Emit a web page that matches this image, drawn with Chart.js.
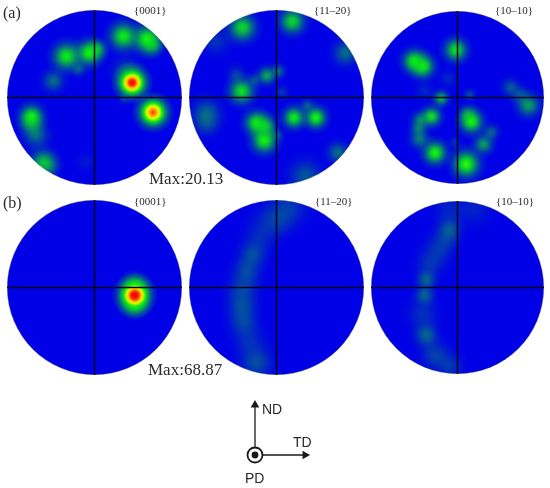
<!DOCTYPE html>
<html>
<head>
<meta charset="utf-8">
<script src="https://cdn.jsdelivr.net/npm/chart.js@4"></script>
<style>
html,body{margin:0;padding:0;background:#fff;width:550px;height:488px;overflow:hidden}
#stage{position:relative;width:550px;height:488px}
canvas{position:absolute}
.t{position:absolute;white-space:nowrap;color:#2a2a2a;line-height:1;transform:translateY(-50%)}
.serif{font-family:"Liberation Serif",serif}
.sans{font-family:"Liberation Sans",sans-serif;font-size:14px}
</style>
</head>
<body>
<div id="stage"></div>
<script>
// Each pole: [x, y, peak level, spread], x/y on the unit projection disc.
const polesA0001 = [
  [.43,.17,2.15,.14],[.36,.30,.3,.14],[.67,-.17,1.95,.14],[.33,.70,1.0,.14],[.60,.67,1.05,.14],[.66,.60,.7,.1],
  [-.32,.47,1.0,.14],[-.06,.51,1.05,.13],[.03,.55,.7,.09],[-.18,.32,.35,.07],[-.47,.19,.45,.11],
  [-.72,-.22,1.05,.12],[-.72,-.3,.5,.11],[-.67,-.43,.45,.13],[-.59,-.74,.75,.13],[-.53,-.78,.4,.11],[.33,-.02,.18,.05],[-.1,-.74,.1,.09]
];
const polesA1120 = [
  [-.39,.80,.9,.14],[-.69,.64,.2,.14],[.18,.87,.9,.13],[.79,.51,.45,.13],[-.11,.25,.7,.09],[.02,.3,.45,.07],
  [-.4,.07,.95,.13],[-.46,.26,.25,.09],[-.25,.2,.3,.07],[-.8,-.18,.4,.15],[-.8,-.3,.25,.13],[-.23,-.29,1.0,.12],[-.14,-.49,1.05,.13],
  [-.13,-.33,.8,.11],[.2,-.23,1.0,.11],[.45,-.23,1.05,.11],[.35,-.09,.35,.07],[.70,-.63,.45,.11],[.33,-.9,.35,.17],
  [.06,.06,.2,.07],[.02,-.43,.25,.06]
];
const polesA1010 = [
  [-.5,.42,1.0,.12],[-.4,.36,1.0,.12],[-.02,.55,.95,.12],[-.19,-.01,.75,.08],[.14,.03,.3,.06],
  [-.30,-.22,.95,.1],[-.43,-.26,.5,.09],[-.45,-.36,.45,.08],[-.44,-.48,.5,.1],[-.26,-.64,1.05,.12],
  [.16,-.28,1.05,.12],[.12,-.2,.6,.09],[.30,-.54,.65,.1],[.39,-.40,.4,.08],[.10,-.77,1.1,.14],
  [.82,-.09,.65,.12],[.72,.03,.3,.1],[.61,.12,.35,.09],[-.03,-.52,.2,.06],[-.11,.22,.15,.09],[-.38,.08,.15,.09]
];
const polesB0001 = [[.46,-.09,2.25,.15],[.46,0,1.0,.12],[.46,-.18,1.0,.12]];
const polesB1120 = [
  [-.27,.38,.3,.14],[-.34,.2,.26,.14],[-.36,.05,.16,.16],[-.41,-.06,.18,.15],[-.39,-.22,.28,.15],[-.38,-.40,.26,.15],
  [-.31,-.61,.18,.17],[-.23,-.86,.32,.17],[-.19,.58,.16,.17],[-.07,.78,.17,.18],[.14,.91,.24,.19],[.04,.74,.12,.15]
];
const polesB1010 = [
  [-.09,.67,.36,.12],[-.14,.55,.16,.14],[-.22,.44,.18,.16],[-.32,.27,.2,.15],[-.36,.09,.4,.1],[-.38,-.09,.4,.1],[-.40,-.31,.2,.16],
  [-.36,-.55,.42,.12],[-.26,-.78,.27,.15],[-.09,-.91,.22,.14],[.2,.9,.13,.17],[-.09,.9,.15,.18]
];
const familyLabels = ['{0001}','{11–20}','{10–10}'];
const rowLabels = ['(a)','(b)'];
const maxLabels = ['Max:20.13','Max:68.87'];
const axisNames = ['ND','TD','PD'];
const axisX = [0,.91];
const axisY = [0,.91];

const stage = document.getElementById('stage');
const DISC_BLUE = '#0000e6';
const SPREAD_K = 1.75;
const BLOB_INDEX = 2;

function levelColor(v){
  if(v<=1) return 'rgba(10,235,20,'+Math.max(v,0).toFixed(3)+')';
  const ramp=[[1,10,235,20],[1.45,230,250,0],[1.75,255,190,0],[2.0,255,40,0],[2.3,230,0,0]];
  for(let i=1;i<ramp.length;i++){
    if(v<=ramp[i][0]){
      const a=ramp[i-1],b=ramp[i],f=(v-a[0])/(b[0]-a[0]);
      return 'rgb('+[1,2,3].map(k=>Math.round(a[k]+(b[k]-a[k])*f)).join(',')+')';
    }
  }
  return 'rgb(230,0,0)';
}
function blobFill(ctx){
  if(!ctx.raw) return 'transparent';
  const c=ctx.chart, p=ctx.raw;
  if(!c.scales.x||!c.scales.y) return 'transparent';
  const px=c.scales.x.getPixelForValue(p.x), py=c.scales.y.getPixelForValue(p.y);
  if(!isFinite(px)||!isFinite(py)) return 'transparent';
  const r=p.spread*c.width/2*SPREAD_K;
  const g=c.ctx.createRadialGradient(px,py,0,px,py,r);
  for(let i=0;i<=14;i++){
    const t=i/14, v=i===14?0:p.level*Math.exp(-3.6*t*t);
    g.addColorStop(t,levelColor(v));
  }
  return g;
}
const discClip={
  id:'discClip',
  beforeDatasetDraw(c,args){
    if(args.index!==BLOB_INDEX) return;
    const a=c.chartArea;
    c.ctx.save();
    c.ctx.beginPath();
    c.ctx.arc((a.left+a.right)/2,(a.top+a.bottom)/2,(a.right-a.left)/2,0,Math.PI*2);
    c.ctx.clip();
  },
  afterDatasetDraw(c,args){ if(args.index===BLOB_INDEX) c.ctx.restore(); }
};
function unitScale(min,max){ return {type:'linear',min,max,display:false}; }
function baseOptions(xr,yr){
  return {responsive:false,animation:false,events:[],layout:{padding:0,autoPadding:false},
    plugins:{legend:{display:false},tooltip:{enabled:false}},
    scales:{x:unitScale(xr[0],xr[1]),y:unitScale(yr[0],yr[1])}};
}
function addCanvas(left,top,w,h){
  const el=document.createElement('canvas');
  el.width=w;el.height=h;
  el.style.cssText='left:'+left+'px;top:'+top+'px;width:'+w+'px;height:'+h+'px';
  stage.appendChild(el);
  return el;
}
function polePanel(cx,cy,r,poles){
  const el=addCanvas(cx-r,cy-r,r*2,r*2);
  const sorted=poles.slice().sort((a,b)=>a[2]-b[2]);
  const cross={showLine:true,borderColor:'#05051a',borderWidth:1.5,pointRadius:0,clip:false};
  new Chart(el,{type:'scatter',plugins:[discClip],data:{datasets:[
    Object.assign({data:[{x:-1,y:0},{x:0,y:0},{x:1,y:0}]},cross),
    Object.assign({data:[{x:0,y:-1},{x:0,y:0},{x:0,y:1}]},cross),
    {data:sorted.map(p=>({x:p[0],y:p[1],level:p[2],spread:p[3]})),
     pointRadius:c=>c.raw?c.raw.spread*c.chart.width/2*SPREAD_K:0,
     pointBackgroundColor:blobFill,pointBorderWidth:0,clip:false},
    {data:[{x:0,y:0}],pointRadius:c=>c.chart.width/2-.3,pointBackgroundColor:DISC_BLUE,
     pointBorderColor:'rgba(60,60,90,.6)',pointBorderWidth:.6,clip:false}
  ]},options:baseOptions([-1,1],[-1,1])});
}
function label(txt,left,cy,cls,size){
  const d=document.createElement('div');
  d.className='t '+cls;d.textContent=txt;
  d.style.left=left+'px';d.style.top=cy+'px';
  if(size) d.style.fontSize=size+'px';
  stage.appendChild(d);
}

polePanel(94.5,97.5,87.5,polesA0001);
polePanel(276.5,97.5,87.5,polesA1120);
polePanel(457.5,97.5,86.5,polesA1010);
polePanel(94.5,287.5,87.5,polesB0001);
polePanel(276.5,287.5,87.5,polesB1120);
polePanel(457.5,287.5,86.5,polesB1010);

// direction triad
(function(){
  const el=addCanvas(240,392,80,80);
  const ink='#1a1a1a';
  new Chart(el,{type:'scatter',data:{datasets:[
    {data:[{x:0,y:0}],pointRadius:3.4,pointBackgroundColor:ink,pointBorderWidth:0,clip:false},
    {data:[{x:0,y:0}],pointRadius:7.5,pointBackgroundColor:'#fff',pointBorderColor:ink,pointBorderWidth:1.8,clip:false},
    {data:[{x:axisX[0],y:0},{x:axisX[1],y:0}],showLine:true,borderColor:ink,borderWidth:1.3,
     pointRadius:[0,5],pointStyle:'triangle',pointRotation:90,pointBackgroundColor:ink,pointBorderWidth:0,clip:false},
    {data:[{x:0,y:axisY[0]},{x:0,y:axisY[1]}],showLine:true,borderColor:ink,borderWidth:1.3,
     pointRadius:[0,5],pointStyle:'triangle',pointRotation:0,pointBackgroundColor:ink,pointBorderWidth:0,clip:false}
  ]},options:baseOptions([-15/55,65/55],[-17/55,63/55])});
})();

label(rowLabels[0],3,13,'serif',16);
label(rowLabels[1],3,203,'serif',16);
[134,314,495].forEach((x,i)=>{
  label(familyLabels[i],x,10,'serif',11);
  label(familyLabels[i],x+(i?1:0),200.5,'serif',11);
});
label(maxLabels[0],149,178,'serif',17);
label(maxLabels[1],148,369,'serif',17);
label(axisNames[0],262,409,'sans');
label(axisNames[1],293,442,'sans');
label(axisNames[2],245,478,'sans');
</script>
</body>
</html>
